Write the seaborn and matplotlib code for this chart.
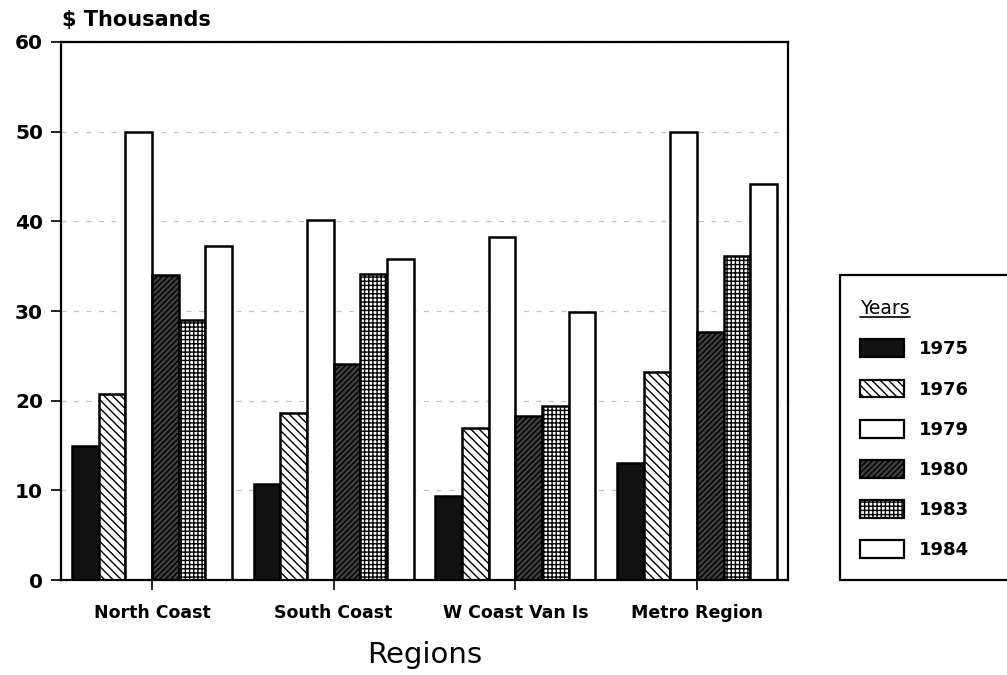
import matplotlib
matplotlib.use("Agg")
import matplotlib.pyplot as plt
from matplotlib.patches import Patch, Rectangle
from matplotlib.lines import Line2D
import seaborn as sns
import pandas as pd

regions = ["North Coast", "South Coast", "W Coast Van Is", "Metro Region"]
years = ["1975", "1976", "1979", "1980", "1983", "1984"]
v1975 = [15.0, 10.7, 9.4, 13.0]
v1976 = [20.8, 18.6, 17.0, 23.2]
v1979 = [50.0, 40.1, 38.3, 50.0]
v1980 = [34.0, 24.1, 18.3, 27.7]
v1983 = [29.0, 34.1, 19.4, 36.1]
v1984 = [37.3, 35.8, 29.9, 44.2]
yticks = [0, 10, 20, 30, 40, 50, 60]

series = [v1975, v1976, v1979, v1980, v1983, v1984]
df = pd.DataFrame(
    [(r, y, vals[i]) for y, vals in zip(years, series) for i, r in enumerate(regions)],
    columns=["Region", "Year", "Value"],
)

# fill / hatch style for each year
styles = {
    "1975": dict(facecolor="#111111", hatch=""),
    "1976": dict(facecolor="white", hatch="\\\\\\\\"),
    "1979": dict(facecolor="white", hatch=""),
    "1980": dict(facecolor="#404040", hatch="//////"),
    "1983": dict(facecolor="white", hatch="++++"),
    "1984": dict(facecolor="white", hatch=""),
}

sns.set_style("white")
plt.rcParams["font.family"] = ["DejaVu Sans"]
plt.rcParams["text.color"] = "black"
plt.rcParams["xtick.color"] = "black"
plt.rcParams["ytick.color"] = "black"
plt.rcParams["axes.labelcolor"] = "black"
plt.rcParams["hatch.linewidth"] = 1.0
plt.rcParams["hatch.color"] = "black"

fig = plt.figure(figsize=(10.07, 6.75), dpi=100)
ax = fig.add_axes([0.0606, 0.1407, 0.7219, 0.7971])

sns.barplot(data=df, x="Region", y="Value", hue="Year", order=regions,
            hue_order=years, width=0.88, palette=[styles[y]["facecolor"] for y in years],
            saturation=1, legend=False, errorbar=None, ax=ax)

for year, cont in zip(years, ax.containers):
    st = styles[year]
    for bar in cont:
        bar.set_facecolor(st["facecolor"])
        bar.set_hatch(st["hatch"])
        bar.set_edgecolor("black")
        bar.set_linewidth(1.8)

ax.set_ylim(0, 60)
ax.set_xlim(-0.5, 3.5)
ax.set_yticks(yticks)
ax.set_yticklabels([str(t) for t in yticks], fontsize=14.5, fontweight="bold")
ax.set_xticks(range(len(regions)))
ax.set_xticklabels(regions, fontsize=12.5, fontweight="bold")
ax.tick_params(axis="both", direction="out", length=7, width=1.2, color="black",
               bottom=True, left=True)
ax.tick_params(axis="x", pad=10)
ax.tick_params(axis="y", pad=6)
ax.set_ylabel("")
ax.set_xlabel("Regions", fontsize=21, labelpad=14)
for sp in ax.spines.values():
    sp.set_visible(True)
    sp.set_color("black")
    sp.set_linewidth(1.6)
ax.yaxis.grid(True, linestyle=(0, (4, 6)), color="#c4c4c4", linewidth=0.9)
ax.set_axisbelow(True)

fig.text(0.062, 0.955, "$ Thousands", fontsize=15, fontweight="bold",
         ha="left", va="bottom")

# legend box on the right
fig.patches.append(Rectangle((840 / 1007, 95 / 675), 0.2, 305 / 675,
                             transform=fig.transFigure, facecolor="white",
                             edgecolor="black", linewidth=1.6, zorder=0))
handles = [Patch(facecolor=styles[y]["facecolor"], hatch=styles[y]["hatch"],
                 edgecolor="black", linewidth=1.6) for y in years]
leg = fig.legend(handles, years, loc="upper left",
                 bbox_to_anchor=(844 / 1007, (675 - 283) / 675),
                 frameon=False, title="Years",
                 handlelength=2.4, handleheight=1.15,
                 labelspacing=1.17, handletextpad=0.85,
                 prop={"weight": "bold", "size": 13},
                 title_fontproperties={"size": 13.5})
leg._legend_box.align = "left"

# underline the legend title
fig.canvas.draw()
bb = leg.get_title().get_window_extent().transformed(fig.transFigure.inverted())
fig.add_artist(Line2D([bb.x0, bb.x1], [bb.y0 + 0.002, bb.y0 + 0.002],
                      transform=fig.transFigure, color="black", linewidth=1.2))

fig.savefig("out.png", dpi=100, facecolor="white")
